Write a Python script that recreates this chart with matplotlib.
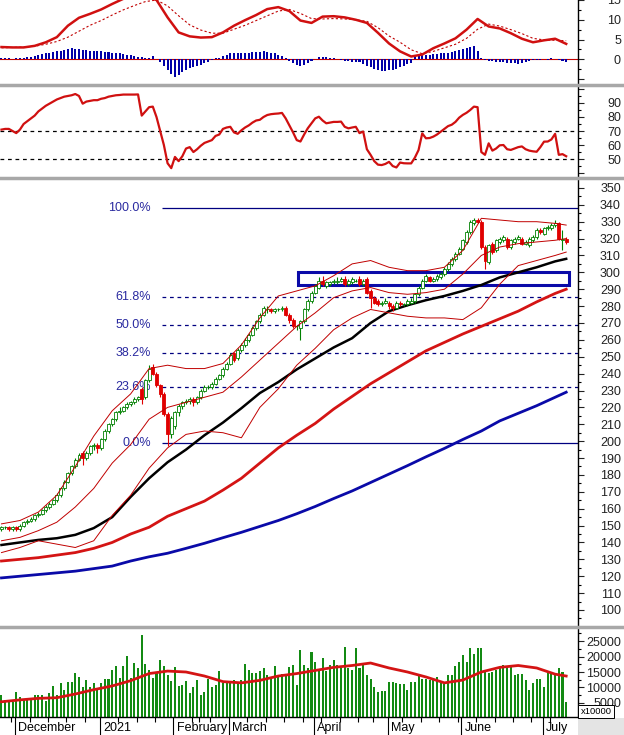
import numpy as np
import pandas as pd
import matplotlib
matplotlib.use("Agg")
import matplotlib.pyplot as plt
from matplotlib.patches import Rectangle
from matplotlib.lines import Line2D

plt.rcParams['font.family'] = ['Liberation Sans', 'DejaVu Sans']

# trading days (HOSE holidays removed)
holidays = ['2021-01-01', '2021-02-10', '2021-02-11', '2021-02-12', '2021-02-15',
            '2021-02-16', '2021-04-21', '2021-04-30', '2021-05-03']
dates = pd.bdate_range('2020-11-25', '2021-07-09')
dates = dates[~dates.isin(pd.to_datetime(holidays))]
month_names = ['December', '2021', 'February', 'March', 'April', 'May', 'June', 'July']

opens = [148, 149, 149, 148, 149, 148, 150, 152, 153, 154,
         156, 157, 159, 161, 163, 165, 168, 172, 176, 181,
         185, 189, 193, 190, 193, 197, 198, 196, 201, 206,
         210, 213, 217, 218, 220, 222, 223, 225, 231, 226,
         236, 244, 240, 233, 228, 216, 204, 209, 217, 221,
         223, 224, 225, 223, 226, 230, 232, 232, 234, 237,
         239, 243, 246, 252, 249, 254, 257, 260, 263, 267,
         271, 275, 278, 278, 277, 278, 278, 279, 275, 272,
         268, 267, 271, 278, 283, 288, 291, 295, 292, 293,
         294, 294, 295, 296, 293, 294, 295, 296, 293, 296,
         289, 285, 283, 281, 282, 282, 280, 279, 282, 281,
         281, 282, 283, 287, 291, 295, 297, 295, 296, 297,
         299, 302, 305, 308, 311, 314, 318, 324, 329, 331,
         330, 315, 306, 317, 313, 318, 319, 320, 315, 318,
         320, 320, 317, 316, 319, 321, 325, 323, 326, 326,
         328, 329, 319, 320]
closes = [149, 149, 148, 149, 148, 150, 152, 153, 154, 156,
          157, 159, 161, 163, 165, 168, 172, 176, 181, 185,
          189, 192, 190, 193, 197, 198, 196, 201, 206, 210,
          213, 217, 218, 220, 222, 223, 225, 226, 225, 236,
          243, 240, 233, 228, 216, 204, 214, 217, 221, 223,
          224, 225, 223, 226, 230, 232, 232, 234, 237, 239,
          243, 246, 251, 248, 254, 257, 260, 263, 267, 271,
          275, 279, 278, 277, 278, 278, 279, 275, 272, 268,
          268, 271, 278, 283, 288, 292, 295, 293, 294, 294,
          295, 295, 296, 293, 295, 296, 295, 293, 295, 288,
          285, 282, 281, 282, 283, 280, 279, 282, 281, 281,
          283, 283, 287, 291, 295, 298, 295, 296, 298, 299,
          302, 305, 308, 311, 314, 319, 324, 330, 331, 330,
          315, 307, 316, 312, 319, 320, 321, 315, 319, 320,
          321, 317, 318, 320, 321, 325, 324, 326, 327, 328,
          329, 320, 320, 318]
highs = [150, 150, 150, 150, 150, 151, 153, 154, 155, 157,
         158, 160, 162, 164, 166, 169, 173, 177, 182, 186,
         190, 193, 194, 194, 198, 199, 199, 202, 207, 211,
         214, 218, 220, 221, 223, 224, 226, 227, 232, 237,
         245, 246, 241, 234, 229, 217, 215, 218, 222, 224,
         225, 226, 226, 227, 231, 233, 233, 235, 238, 240,
         244, 247, 252, 253, 255, 258, 261, 264, 268, 272,
         276, 280, 280, 279, 279, 279, 280, 280, 276, 273,
         269, 272, 279, 284, 289, 293, 297, 298, 295, 295,
         296, 297, 297, 298, 296, 297, 296, 298, 296, 297,
         290, 286, 284, 283, 285, 283, 281, 283, 283, 282,
         284, 285, 288, 292, 296, 299, 298, 297, 299, 300,
         303, 306, 309, 312, 315, 320, 325, 331, 332, 332,
         331, 316, 317, 318, 320, 321, 322, 321, 320, 321,
         322, 321, 319, 321, 322, 326, 326, 327, 328, 329,
         331, 330, 325, 321]
lows = [147, 148, 147, 147, 147, 147, 149, 151, 152, 153,
        155, 156, 158, 160, 162, 164, 167, 171, 175, 180,
        184, 188, 186, 189, 192, 195, 193, 195, 200, 205,
        209, 212, 216, 217, 219, 221, 222, 224, 222, 225,
        235, 239, 232, 226, 215, 197, 202, 207, 215, 219,
        222, 222, 221, 222, 225, 229, 231, 231, 233, 236,
        238, 242, 245, 247, 248, 253, 256, 259, 262, 266,
        270, 274, 276, 276, 276, 277, 277, 274, 270, 267,
        266, 260, 270, 277, 282, 287, 290, 292, 291, 292,
        293, 293, 294, 292, 292, 293, 294, 292, 292, 287,
        279, 281, 280, 280, 281, 278, 277, 278, 280, 280,
        280, 281, 282, 286, 290, 294, 294, 294, 295, 296,
        298, 301, 304, 307, 310, 313, 317, 323, 328, 329,
        314, 302, 305, 311, 312, 317, 318, 314, 314, 317,
        319, 316, 316, 315, 318, 320, 323, 322, 325, 325,
        327, 319, 313, 317]

volume = [7600, 6000, 5400, 5200, 8700, 7000, 6300, 6000, 6300, 7600,
          7600, 7600, 5600, 8100, 10500, 7600, 11300, 9200, 11900, 11900,
          14600, 13500, 10300, 12400, 10300, 11300, 9700, 11300, 12700, 12700,
          15600, 17000, 13000, 17000, 20200, 13000, 18000, 16200, 26900, 17600,
          15600, 13200, 14600, 18900, 17000, 14000, 12100, 16600, 10500, 10800,
          12100, 8300, 10300, 12400, 7600, 8700, 12700, 10300, 10800, 15300,
          11300, 11300, 11300, 12400, 11300, 12400, 17600, 15600, 14800, 14800,
          15300, 16400, 14000, 13500, 17000, 14000, 14200, 14000, 16700, 17300,
          10800, 22100, 17300, 16200, 21500, 18100, 15600, 19400, 15300, 17300,
          18900, 17300, 16200, 23200, 16200, 15600, 22600, 16200, 17300, 14000,
          12900, 10300, 8700, 8900, 8900, 11700, 11900, 11300, 11000, 11000,
          9200, 11900, 11900, 14000, 12900, 12900, 12400, 12400, 13500, 11300,
          11000, 14000, 14000, 17000, 18300, 20500, 18100, 22600, 20800, 22600,
          22600, 15600, 14600, 15100, 15600, 16700, 17300, 16500, 16700, 14000,
          14200, 14300, 12400, 9200, 11300, 12900, 12900, 10300, 14600, 14600,
          14000, 16200, 15100, 5200]

# smooth lines, read every 5 sessions (last point = last session)
ma_black = [138.5, 140, 141.5, 142.5, 144.5, 148.5, 155, 167, 178, 187.5, 195, 203.5,
            211, 219.5, 228.5, 235, 242.5, 249, 255.5, 261, 270, 277, 280.5, 283.5,
            286, 289, 292.5, 297, 300, 303, 306.5, 308]
ma_red = [129, 130, 131, 132.5, 134, 136.5, 140, 145, 149, 155.5, 160, 164.5,
          171, 178, 187, 196, 203.5, 210.5, 219, 226.5, 234, 240.5, 247, 253.5,
          258.5, 263.5, 268, 272.5, 277, 282.5, 287.5, 290]
ma_blue = [119, 120, 121, 122, 123, 124.5, 126, 129, 131.5, 133.6, 136.5, 139.5,
           142.8, 146, 149.5, 153, 157, 161.3, 166, 170.5, 175.5, 180.5, 185.5, 190.7,
           195.7, 201, 206, 212, 216.5, 221, 226, 229]
bb_upper = [151, 153, 158, 168, 185, 203, 218, 228, 243, 245, 243, 243,
            246, 257, 273, 286, 289, 292, 298, 305, 307, 303, 301, 301,
            303, 313, 332, 331, 330, 330, 329, 328]
bb_mid = [141, 143, 147, 152, 161, 172, 187, 198, 213, 220, 223, 226,
          229, 238, 248, 258, 268, 276, 285, 289, 291, 288, 287, 288,
          290, 299, 310, 315, 317, 318, 319, 320]
bb_lower = [134, 137, 141, 139, 137, 141, 156, 168, 184, 196, 204, 206,
            205, 202, 220, 231, 245, 255, 266, 273, 278, 276, 274, 273,
            273, 272, 279, 293, 304, 307, 310, 312]
vol_ma = [5400, 6000, 6500, 6700, 7900, 9300, 10500, 12200, 14500, 15300, 15000, 13700,
          11900, 11500, 12300, 13700, 14500, 15500, 16500, 17100, 17900, 16300, 15000, 13400,
          11500, 12400, 15000, 16500, 17100, 16300, 14300, 13700]

# MACD / signal read every 3 sessions
macd = [3.1, 3.0, 3.0, 3.4, 4.3, 5.6, 8.5, 10.5, 11.5, 12.6, 14.0, 15.3, 16.0,
        16.0, 15.0, 10.6, 6.8, 5.8, 5.5, 5.6, 6.8, 8.5, 9.9, 11.2, 12.7, 13.2,
        12.2, 9.8, 9.2, 10.8, 10.9, 10.6, 10.0, 9.2, 6.7, 4.0, 2.0, 0.7, 1.2,
        2.8, 4.0, 5.3, 7.5, 10.2, 8.3, 7.8, 6.6, 5.2, 4.3, 4.8, 5.2, 3.9]
signal = [2.9, 3.0, 3.1, 3.3, 3.8, 4.5, 5.6, 7.1, 8.6, 9.8, 11.2, 12.5, 13.6,
          14.6, 15.0, 13.5, 11.0, 8.7, 7.4, 6.6, 6.6, 7.6, 8.6, 9.8, 11.0, 12.2,
          12.6, 11.6, 10.3, 10.2, 10.3, 10.2, 10.0, 9.6, 8.0, 5.9, 4.3, 2.4, 1.4,
          2.0, 2.9, 3.8, 5.3, 7.6, 8.9, 8.4, 7.5, 6.5, 5.3, 4.9, 4.8, 4.7]
hist = [0.2, 0.2, 0.2, 0.1, 0.2, 0.3, 0.4, 0.5, 0.7, 0.9,
        1.2, 1.4, 1.5, 1.7, 1.9, 2.1, 2.2, 2.4, 2.6, 2.75,
        2.7, 2.5, 2.3, 2.25, 2.2, 2.1, 2.1, 2.0, 1.9, 1.9,
        1.7, 1.6, 1.5, 1.4, 1.2, 1.0, 0.8, 0.6, 0.5, 0.3,
        0.3, 0.8, 0.0, -0.8, -1.8, -2.8, -3.7, -4.4, -3.9, -3.2,
        -2.7, -2.1, -1.9, -1.7, -1.4, -1.0, -0.6, -0.3, 0.2, 0.3,
        0.9, 1.2, 1.6, 1.7, 1.7, 1.6, 1.7, 1.7, 1.8, 1.8,
        1.9, 2.0, 1.9, 1.7, 1.5, 1.2, 0.8, 0.4, -0.4, -1.0,
        -1.5, -1.7, -1.4, -1.0, -0.5, 0.1, 0.5, 0.6, 0.5, 0.4,
        0.2, 0.1, -0.3, -0.4, -0.5, -0.6, -0.6, -0.8, -1.2, -1.6,
        -2.0, -2.4, -2.7, -2.9, -2.9, -2.8, -2.6, -2.4, -2.0, -1.6,
        -1.3, -1.0, 0.6, 0.8, 1.0, 1.2, 1.2, 1.3, 1.4, 1.5,
        1.5, 1.6, 1.8, 2.0, 2.3, 2.6, 2.9, 3.1, 3.3, 2.0,
        0.4, -0.3, -0.4, -0.5, -0.6, -0.7, -0.8, -0.9, -1.0, -1.0,
        -1.1, -1.0, -0.7, -0.4, -0.3, -0.2, -0.1, 0.1, -0.2, 0.2,
        0.1, -0.3, -0.5, -0.7]
rsi = [71, 71.5, 71.5, 70, 68.5, 71, 75, 77, 79, 81,
       84, 86, 88, 89.5, 91, 92.5, 93.5, 94.5, 95, 95.5,
       96.4, 95, 89.5, 91, 91.5, 92, 92, 93, 93.5, 94.5,
       95, 95.5, 95.7, 96, 96, 96, 96, 96.1, 81, 84,
       87, 87.4, 80, 70, 60, 47, 43.5, 51.5, 48.5, 52,
       57.5, 58.5, 55, 57, 59.5, 61.5, 62.5, 63.5, 66.5, 67.5,
       71.5, 72.5, 73, 69, 68, 70.5, 72.5, 74, 76, 77.5,
       78, 80, 81.4, 82, 82.3, 82.5, 82.9, 79, 74, 69,
       63.5, 62.5, 67.5, 72, 75.5, 79, 80.2, 77.5, 75.5, 76,
       76.5, 76.5, 76.7, 73, 71.9, 72.5, 73, 68.5, 69.6, 57,
       53, 48.5, 46, 45.7, 46.5, 48, 45, 44, 47.5, 47,
       46.9, 46.9, 51, 56.4, 68.3, 64.8, 65, 66, 67.5, 69.5,
       71.5, 73.5, 74.5, 76.5, 79.5, 81.5, 83, 85, 87.4, 87,
       55, 53, 61.2, 56, 57.5, 59.8, 60, 57, 56.5, 57.5,
       58.5, 59, 57, 56, 55.5, 55.2, 58.5, 62.4, 62.5, 64,
       68, 53, 53.5, 52]

fib_levels = [199, 232, 252.3, 268.7, 285.2, 338]
fib_labels = ['0.0%', '23.6%', '38.2%', '50.0%', '61.8%', '100.0%']
box_low, box_high = 292.5, 300.3

n = len(closes)
x = np.arange(n)
x5 = list(range(0, n - 3, 5)) + [n - 1]
x3 = list(range(0, n, 3))

W, H = 624, 735
fig = plt.figure(figsize=(W / 100, H / 100), dpi=100)


def panel(top, bottom):
    ax = fig.add_axes([0, 1 - bottom / H, 578 / W, (bottom - top) / H])
    for s in ['top', 'left', 'bottom']:
        ax.spines[s].set_visible(False)
    ax.spines['right'].set_linewidth(1)
    ax.set_xlim(-0.4, 156.2)
    ax.tick_params(axis='x', bottom=False, labelbottom=False)
    ax.yaxis.tick_right()
    ax.tick_params(axis='y', which='major', length=4.3, width=0.8, pad=26.6,
                   labelsize=9, colors='#222222')
    ax.tick_params(axis='y', which='minor', length=2.2, width=0.8)
    return ax


def yticks(ax, major, labels, minor):
    ax.set_yticks(major, labels)
    ax.set_yticks(minor, minor=True)
    plt.setp(ax.get_yticklabels(), ha='right')


# MACD
ax_macd = panel(0, 83)
ax_macd.set_ylim(-6, 14.75)
ax_macd.axhline(0, color='#c00000', lw=0.8, zorder=1)
ax_macd.bar(x, hist, width=0.55, color='#0000a8', zorder=2)
ax_macd.plot(x3, signal, color='#c00000', lw=0.8, ls=(0, (2, 2)), zorder=3)
ax_macd.plot(x3, macd, color='#d01010', lw=1.8, zorder=4)
yticks(ax_macd, [-5, 0, 5, 10, 15], ['', '0', '5', '10', '15'], [-2.5, 2.5, 7.5, 12.5])

# RSI
ax_rsi = panel(87, 176)
ax_rsi.set_ylim(37.9, 101.4)
for lv in [70, 50]:
    ax_rsi.axhline(lv, color='black', lw=0.9, ls=(0, (3, 3)), zorder=1)
ax_rsi.plot(x, rsi, color='#d01010', lw=1.6, zorder=3)
yticks(ax_rsi, list(range(40, 101, 10)), ['', '50', '60', '70', '80', '90', ''],
       list(range(45, 100, 10)))

# price
ax = panel(180, 625)
ax.set_ylim(91.1, 354.7)
fib_start = 43.5
for lv, lab in zip(fib_levels, fib_labels):
    solid = lab in ('0.0%', '100.0%')
    ax.hlines(lv, fib_start, 156.2, color='#000080', lw=0.9,
              linestyles='solid' if solid else (0, (3, 3)), zorder=1)
    ax.text(fib_start - 3, lv, lab, ha='right', va='center', fontsize=9,
            color='#2a2aa0', zorder=1.5)
ax.add_patch(Rectangle((80.4, box_low), 153.8 - 80.4, box_high - box_low,
                       fill=False, edgecolor='#0a0aa8', lw=2.2, zorder=2))

ax.plot(x5, ma_blue, color='#0a0aa8', lw=2.0, zorder=2.5)
ax.plot(x5, ma_red, color='#d41414', lw=2.0, zorder=2.5)
ax.plot(x5, ma_black, color='black', lw=1.8, zorder=2.5)
for band in (bb_upper, bb_mid, bb_lower):
    ax.plot(x5, band, color='#c00000', lw=0.7, zorder=4)

o = np.array(opens)
c = np.array(closes)
up = c >= o
ax.vlines(x[up], np.array(lows)[up], np.array(highs)[up], color='#008000', lw=0.8, zorder=3)
ax.vlines(x[~up], np.array(lows)[~up], np.array(highs)[~up], color='#e00000', lw=0.8, zorder=3)
ax.bar(x[up], (c - o)[up], bottom=o[up], width=0.8, facecolor='white',
       edgecolor='#008000', lw=0.6, zorder=3.2)
ax.bar(x[~up], (c - o)[~up], bottom=o[~up], width=0.8, facecolor='#e00000',
       edgecolor='#e00000', lw=0.6, zorder=3.2)
yticks(ax, list(range(100, 351, 10)), [str(v) for v in range(100, 351, 10)],
       list(range(95, 350, 10)))

# volume
ax_vol = panel(628, 717)
ax_vol.set_ylim(480, 29200)
ax_vol.spines['bottom'].set_visible(True)
ax_vol.spines['bottom'].set_linewidth(1)
ax_vol.bar(x, volume, width=0.55, color='#138a13', zorder=2)
ax_vol.plot(x5, vol_ma, color='#d41414', lw=2.0, zorder=3)
yticks(ax_vol, list(range(5000, 25001, 5000)), [str(v) for v in range(5000, 25001, 5000)],
       list(range(2500, 29000, 5000)))

# date axis
months = [i for i in range(1, n) if dates[i].month != dates[i - 1].month]
week = dates.isocalendar().week.values
weeks = [i for i in range(1, n) if week[i] != week[i - 1] and i not in months]
ax_vol.set_xticks([i - 0.4 for i in months])
ax_vol.set_xticks([i - 0.4 for i in weeks], minor=True)
ax_vol.tick_params(axis='x', which='major', bottom=True, length=13, width=0.8, direction='out')
ax_vol.tick_params(axis='x', which='minor', bottom=True, length=3.6, width=0.8, direction='out')
for i, name in zip(months, month_names):
    ax_vol.text(i + 0.5, -0.125, name, transform=ax_vol.get_xaxis_transform(),
                ha='left', va='center', fontsize=9)

# pane separators and corner
for y in [85, 178, 626.5]:
    fig.add_artist(Line2D([0, 1], [1 - y / H, 1 - y / H], color='#a8a8a8', lw=2.5))
fig.add_artist(Rectangle((578 / W, 0), 46 / W, 17 / H, transform=fig.transFigure,
                         facecolor='#e4e4e4', edgecolor='none'))
fig.text(580.5 / W, 1 - 711.5 / H, 'x10000', fontsize=6.8, ha='left', va='center',
         bbox=dict(facecolor='white', edgecolor='black', lw=0.7, pad=1.6))

fig.savefig('out.png', dpi=100)
